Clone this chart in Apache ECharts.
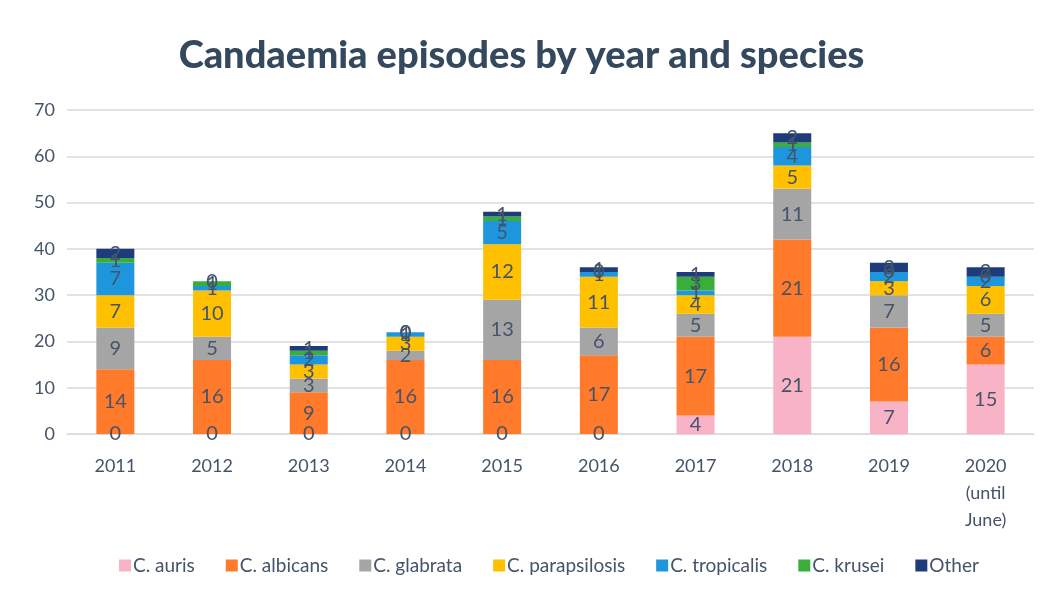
<!DOCTYPE html>
<html><head><meta charset="utf-8">
<script src="https://cdn.jsdelivr.net/npm/echarts@6/dist/echarts.min.js"></script>
<style>html,body{margin:0;padding:0;background:#fff}#c{width:1043px;height:596px}</style>
</head><body><div id="c"></div>
<script>
const categories = ['2011','2012','2013','2014','2015','2016','2017','2018','2019','2020\n(until\nJune)'];
const seriesNames = ['C. auris','C. albicans','C. glabrata','C. parapsilosis','C. tropicalis','C. krusei','Other'];
const auris        = [0, 0, 0, 0, 0, 0, 4, 21, 7, 15];
const albicans     = [14, 16, 9, 16, 16, 17, 17, 21, 16, 6];
const glabrata     = [9, 5, 3, 2, 13, 6, 5, 11, 7, 5];
const parapsilosis = [7, 10, 3, 3, 12, 11, 4, 5, 3, 6];
const tropicalis   = [7, 1, 2, 1, 5, 1, 1, 4, 2, 2];
const krusei       = [1, 1, 1, 0, 1, 0, 3, 1, 0, 0];
const other        = [2, 0, 1, 0, 1, 1, 1, 2, 2, 2];
const yTicks = [0, 10, 20, 30, 40, 50, 60, 70];

const values = [auris, albicans, glabrata, parapsilosis, tropicalis, krusei, other];
const colors = ['#F9B3C6', '#FF7A2A', '#A5A5A5', '#FFC000', '#1E96DE', '#3AAE3A', '#1F3C7A'];
const textColor = '#44546A';
const font = 'Lato, "Open Sans", sans-serif';

const chart = echarts.init(document.getElementById('c'), null, {renderer: 'canvas'});
chart.setOption({
  backgroundColor: '#fff',
  animation: false,
  title: {
    text: 'Candaemia episodes by year and species',
    left: 'center', top: 32,
    textStyle: {fontFamily: font, fontSize: 38, fontWeight: 900, color: '#34495E'}
  },
  legend: {
    bottom: 16, left: 114,
    itemWidth: 12, itemHeight: 12, itemGap: 31,
    icon: 'rect',
    textStyle: {fontFamily: font, fontSize: 19, color: textColor, padding: [0,0,0,-3]},
    data: seriesNames
  },
  grid: {left: 67, right: 9, top: 110, bottom: 162, containLabel: false},
  xAxis: {
    type: 'category', data: categories,
    axisLine: {lineStyle: {color: '#D9D9D9'}},
    axisTick: {show: false},
    axisLabel: {fontFamily: font, fontSize: 18, color: textColor, margin: 19, lineHeight: 27}
  },
  yAxis: {
    type: 'value', min: yTicks[0], max: yTicks[yTicks.length-1], interval: 10,
    axisLine: {show: false}, axisTick: {show: false},
    splitLine: {lineStyle: {color: '#D9D9D9', width: 1.5}},
    axisLabel: {fontFamily: font, fontSize: 18, color: textColor, margin: 12}
  },
  series: seriesNames.map((name, i) => ({
    name, type: 'bar', stack: 'total', barWidth: 38,
    data: values[i],
    itemStyle: {color: colors[i]},
    label: {show: true, position: 'inside', fontFamily: font, fontSize: 20, color: textColor}
  }))
});
</script></body></html>
